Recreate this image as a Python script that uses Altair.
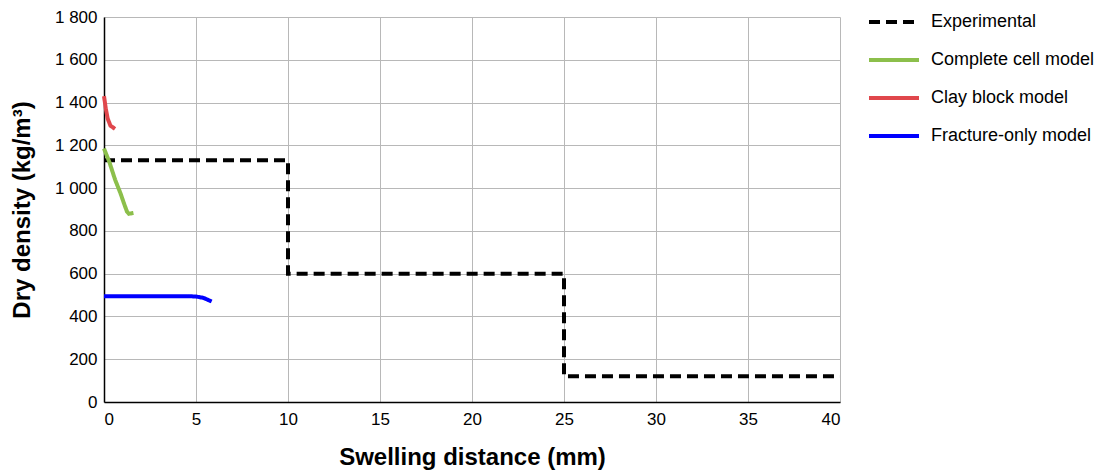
import altair as alt
import pandas as pd

series_names = ["Experimental", "Complete cell model", "Clay block model", "Fracture-only model"]
series_colors = ["#000000", "#8cbf4b", "#e0474c", "#0000ff"]
series_dash = [[11, 6], [1, 0], [1, 0], [1, 0]]

exp_x = [0, 10, 10, 25, 25, 40]
exp_y = [1130, 1130, 600, 600, 120, 120]

cell_x = [0, 0.3, 0.6, 0.9, 1.1, 1.25, 1.35, 1.6]
cell_y = [1185, 1120, 1040, 975, 925, 890, 880, 884]

clay_x = [0, 0.1, 0.2, 0.35, 0.6]
clay_y = [1430, 1370, 1325, 1292, 1277]

frac_x = [0, 2, 4.5, 5.0, 5.4, 5.85]
frac_y = [495, 495, 495, 493, 487, 470]

rows = []
for name, xs, ys in zip(series_names, [exp_x, cell_x, clay_x, frac_x], [exp_y, cell_y, clay_y, frac_y]):
    for i, (xv, yv) in enumerate(zip(xs, ys)):
        rows.append({"series": name, "x": xv, "y": yv, "i": i})
df = pd.DataFrame(rows)

FONT = "Liberation Sans"

chart = alt.Chart(df).mark_line(strokeWidth=4, strokeCap="butt").encode(
    x=alt.X("x:Q", scale=alt.Scale(domain=[0, 40], nice=False),
            axis=alt.Axis(values=[0, 5, 10, 15, 20, 25, 30, 35, 40], title="Swelling distance (mm)",
                          labelPadding=9, titlePadding=18, labelFontSize=17, labelFont=FONT)),
    y=alt.Y("y:Q", scale=alt.Scale(domain=[0, 1800], nice=False),
            axis=alt.Axis(values=list(range(0, 1801, 200)), title="Dry density (kg/m³)",
                          labelExpr="replace(format(datum.value, ','), ',', ' ')",
                          labelPadding=7, titlePadding=20, labelFontSize=17, labelFont=FONT)),
    color=alt.Color("series:N", scale=alt.Scale(domain=series_names, range=series_colors),
                    legend=alt.Legend(title=None)),
    strokeDash=alt.StrokeDash("series:N", scale=alt.Scale(domain=series_names, range=series_dash),
                              legend=alt.Legend(title=None)),
    order="i:Q",
    detail="series:N",
).properties(
    width=736, height=385,
    autosize=alt.AutoSizeParams(type="none"),
    padding={"left": 104, "top": 17, "right": 264, "bottom": 73},
).configure_view(stroke=None).configure_axis(
    labelColor="#000000",
    titleFont=FONT, titleFontSize=24, titleFontWeight="bold", titleColor="#000000",
    gridColor="#b8b8b8", gridWidth=1, domainColor="#000000", domainWidth=1.5,
    ticks=False,
).configure_axisX(grid=True).configure_axisY(grid=True).configure_legend(
    orient="none", legendX=763, legendY=-22,
    labelFont=FONT, labelFontSize=18, labelColor="#000000", labelLimit=400,
    symbolType="stroke", symbolSize=2500, symbolStrokeWidth=4, rowPadding=2, labelOffset=10,
)

chart.save("out.html", embed_options={"renderer": "svg", "actions": False})
